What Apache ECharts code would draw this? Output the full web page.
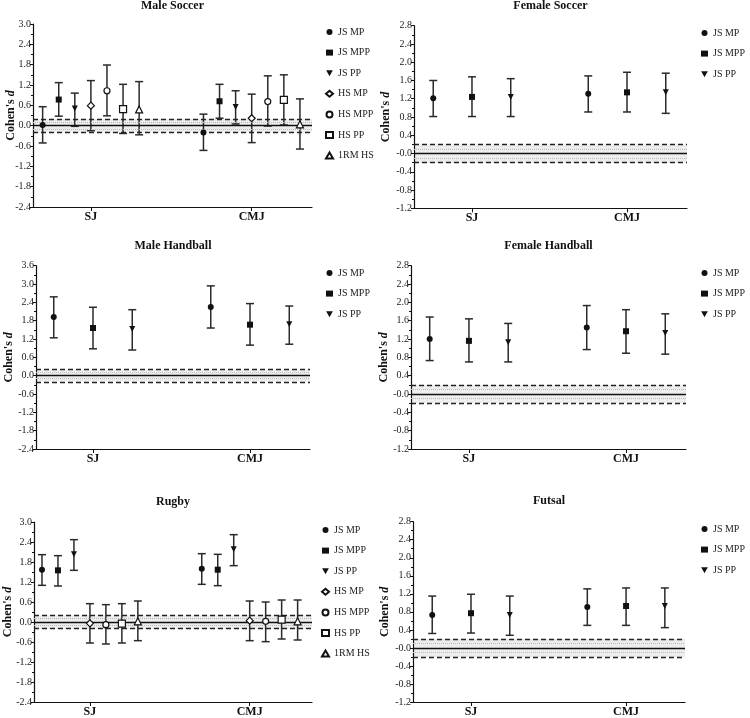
<!DOCTYPE html>
<html>
<head>
<meta charset="utf-8">
<script src="https://cdn.jsdelivr.net/npm/echarts@6/dist/echarts.min.js"></script>
<style>html,body{margin:0;padding:0;background:#fff;}#c{width:750px;height:718px;}</style>
</head>
<body>
<div id="c"></div>
<script>
// ---------------- DATA ----------------
const categories = ['SJ', 'CMJ'];
const names7 = ['JS MP', 'JS MPP', 'JS PP', 'HS MP', 'HS MPP', 'HS PP', '1RM HS'];
const names3 = ['JS MP', 'JS MPP', 'JS PP'];
const panelTitles = ['Male Soccer', 'Female Soccer', 'Male Handball', 'Female Handball', 'Rugby', 'Futsal'];

// each array: [SJ row, CMJ row], one value per series
const maleSoccerD  = [[0.02, 0.77, 0.51, 0.59, 1.03, 0.49, 0.48], [-0.20, 0.72, 0.55, 0.22, 0.71, 0.76, 0.04]];
const maleSoccerLo = [[-0.51, 0.28, -0.02, -0.15, 0.29, -0.23, -0.27], [-0.73, 0.22, 0.05, -0.50, -0.01, 0.02, -0.69]];
const maleSoccerHi = [[0.56, 1.27, 0.96, 1.33, 1.79, 1.22, 1.30], [0.34, 1.22, 1.03, 0.93, 1.47, 1.50, 0.79]];

const femaleSoccerD  = [[1.21, 1.24, 1.24], [1.31, 1.34, 1.34]];
const femaleSoccerLo = [[0.81, 0.81, 0.81], [0.91, 0.91, 0.88]];
const femaleSoccerHi = [[1.60, 1.68, 1.64], [1.70, 1.78, 1.76]];

const maleHandballD  = [[1.92, 1.56, 1.53], [2.25, 1.67, 1.68]];
const maleHandballLo = [[1.24, 0.88, 0.84], [1.56, 1.00, 1.03]];
const maleHandballHi = [[2.58, 2.24, 2.16], [2.94, 2.36, 2.28]];

const femaleHandballD  = [[1.20, 1.16, 1.13], [1.45, 1.37, 1.33]];
const femaleHandballLo = [[0.73, 0.70, 0.70], [0.97, 0.89, 0.87]];
const femaleHandballHi = [[1.68, 1.64, 1.54], [1.93, 1.84, 1.75]];

const rugbyD  = [[1.57, 1.55, 2.03, -0.04, -0.08, -0.05, 0.02], [1.60, 1.57, 2.18, 0.04, 0.02, 0.07, 0.02]];
const rugbyLo = [[1.10, 1.08, 1.55, -0.63, -0.66, -0.63, -0.56], [1.13, 1.09, 1.69, -0.56, -0.59, -0.51, -0.54]];
const rugbyHi = [[2.02, 1.99, 2.47, 0.55, 0.52, 0.55, 0.63], [2.05, 2.03, 2.62, 0.63, 0.60, 0.66, 0.66]];

const futsalD  = [[0.73, 0.77, 0.73], [0.91, 0.93, 0.93]];
const futsalLo = [[0.32, 0.33, 0.28], [0.50, 0.50, 0.45]];
const futsalHi = [[1.15, 1.19, 1.15], [1.31, 1.33, 1.33]];

// y ranges [min, max, interval]
const yRangeMaleSoccer = [-2.4, 3.0, 0.6];
const yRangeFemaleSoccer = [-1.2, 2.8, 0.4];
const yRangeMaleHandball = [-2.4, 3.6, 0.6];
const yRangeFemaleHandball = [-1.2, 2.8, 0.4];
const yRangeRugby = [-2.4, 3.0, 0.6];
const yRangeFutsal = [-1.2, 2.8, 0.4];

const trivialBand = [-0.2, 0.2];

// ---------------- LAYOUT / STYLE ----------------
const FONT = '"Liberation Serif", "Times New Roman", serif';
const panels = [
  {d: maleSoccerD, lo: maleSoccerLo, hi: maleSoccerHi, y: yRangeMaleSoccer, names: names7, neg0: false, nameGap: 16,
   grid: {left: 33, top: 24, width: 279, height: 183}, x: [-0.36, 1.375], legend: {left: 320, top: 21}, titleTop: 0},
  {d: femaleSoccerD, lo: femaleSoccerLo, hi: femaleSoccerHi, y: yRangeFemaleSoccer, names: names3, neg0: true, nameGap: 22,
   grid: {left: 414, top: 25.7, width: 273, height: 182.6}, x: [-0.374, 1.387], legend: {left: 696, top: 22}, titleTop: 0},
  {d: maleHandballD, lo: maleHandballLo, hi: maleHandballHi, y: yRangeMaleHandball, names: names3, neg0: false, nameGap: 21,
   grid: {left: 36, top: 265.7, width: 274, height: 183.3}, x: [-0.363, 1.382], legend: {left: 321, top: 262}, titleTop: 240},
  {d: femaleHandballD, lo: femaleHandballLo, hi: femaleHandballHi, y: yRangeFemaleHandball, names: names3, neg0: true, nameGap: 21,
   grid: {left: 411, top: 265.7, width: 275, height: 183.3}, x: [-0.369, 1.382], legend: {left: 696, top: 262}, titleTop: 240},
  {d: rugbyD, lo: rugbyLo, hi: rugbyHi, y: yRangeRugby, names: names7, neg0: false, nameGap: 20,
   grid: {left: 34, top: 522, width: 278, height: 181.3}, x: [-0.35, 1.39], legend: {left: 316, top: 519}, titleTop: 496},
  {d: futsalD, lo: futsalLo, hi: futsalHi, y: yRangeFutsal, names: names3, neg0: true, nameGap: 22,
   grid: {left: 413, top: 521.7, width: 272, height: 181.6}, x: [-0.374, 1.38], legend: {left: 696, top: 518}, titleTop: 495}
];

const symbolStyles = {
  'JS MP':  {symbol: 'circle', size: 6, fill: '#111'},
  'JS MPP': {symbol: 'rect', size: 6, fill: '#111'},
  'JS PP':  {symbol: 'path://M0,0L10,0L5,9Z', size: 6, fill: '#111'},
  'HS MP':  {symbol: 'diamond', size: 7, fill: '#fff'},
  'HS MPP': {symbol: 'circle', size: 6, fill: '#fff'},
  'HS PP':  {symbol: 'rect', size: 7, fill: '#fff'},
  '1RM HS': {symbol: 'triangle', size: 7, fill: '#fff'}
};

const option = {
  backgroundColor: '#fff',
  animation: false,
  title: [], grid: [], xAxis: [], yAxis: [], legend: [], series: []
};

panels.forEach((p, pi) => {
  const n = p.names.length;
  const step = n === 7 ? 0.1 : 0.25;
  const offsets = p.names.map((_, j) => (j - (n - 1) / 2) * step);
  const g = p.grid;
  option.grid.push({left: g.left, top: g.top, width: g.width, height: g.height, containLabel: false});
  option.title.push({
    text: panelTitles[pi], left: g.left + g.width / 2, top: p.titleTop, textAlign: 'center', padding: 0,
    textStyle: {fontFamily: FONT, fontSize: 12, fontWeight: 'bold', color: '#111'}
  });
  option.xAxis.push({
    type: 'value', gridIndex: pi, min: p.x[0], max: p.x[1],
    axisLine: {show: true, onZero: false, lineStyle: {color: '#111', width: 1.2}},
    axisTick: {show: true, customValues: [0, 1], length: 4, lineStyle: {color: '#111'}},
    axisLabel: {show: true, customValues: [0, 1], formatter: v => categories[Math.round(v)],
      fontFamily: FONT, fontSize: 12, fontWeight: 'bold', color: '#111', margin: 4},
    splitLine: {show: false}
  });
  option.yAxis.push({
    type: 'value', gridIndex: pi, min: p.y[0], max: p.y[1], interval: p.y[2],
    name: "{n|Cohen's }{i|d}", nameLocation: 'middle', nameGap: p.nameGap, nameMoveOverlap: false,
    nameTextStyle: {rich: {
      n: {fontFamily: FONT, fontSize: 12, fontWeight: 'bold', color: '#111'},
      i: {fontFamily: FONT, fontSize: 12, fontWeight: 'bold', fontStyle: 'italic', color: '#111'}
    }},
    axisLine: {show: true, onZero: false, lineStyle: {color: '#111', width: 1.2}},
    axisTick: {show: true, length: 3, lineStyle: {color: '#111'}},
    minorTick: {show: true, splitNumber: 2, length: 2, lineStyle: {color: '#111'}},
    axisLabel: {fontFamily: FONT, fontSize: 10, color: '#222', margin: 2,
      formatter: v => (Math.abs(v) < 1e-9 ? (p.neg0 ? '-0.0' : '0.0') : v.toFixed(1))},
    splitLine: {show: false}
  });
  option.legend.push({
    data: p.names, orient: 'vertical', left: p.legend.left, top: p.legend.top,
    itemWidth: 7, itemHeight: 6, itemGap: 8.6, selectedMode: false,
    textStyle: {fontFamily: FONT, fontSize: 10, color: '#222', lineHeight: 12}
  });

  // error bars
  const errData = [];
  categories.forEach((c, ci) => {
    p.names.forEach((nm, j) => {
      errData.push([ci + offsets[j], p.lo[ci][j], p.hi[ci][j]]);
    });
  });
  option.series.push({
    type: 'custom', xAxisIndex: pi, yAxisIndex: pi, z: 3, silent: true,
    data: errData,
    encode: {x: 0, y: [1, 2]},
    renderItem: (params, api) => {
      const x = api.value(0);
      const top = api.coord([x, api.value(2)]);
      const bot = api.coord([x, api.value(1)]);
      const cw = 4;
      const st = {stroke: '#2a2a2a', lineWidth: 1.5};
      return {type: 'group', children: [
        {type: 'line', shape: {x1: top[0], y1: top[1], x2: bot[0], y2: bot[1]}, style: st},
        {type: 'line', shape: {x1: top[0] - cw, y1: top[1], x2: top[0] + cw, y2: top[1]}, style: st},
        {type: 'line', shape: {x1: bot[0] - cw, y1: bot[1], x2: bot[0] + cw, y2: bot[1]}, style: st}
      ]};
    },
    markArea: {silent: true, itemStyle: {color: 'rgba(0,0,0,0.07)'},
      data: [[{yAxis: trivialBand[0]}, {yAxis: trivialBand[1]}]]},
    markLine: {silent: true, symbol: 'none', label: {show: false},
      data: [
        {yAxis: trivialBand[1], lineStyle: {type: [5, 3], color: '#222', width: 1.3}},
        {yAxis: trivialBand[0], lineStyle: {type: [5, 3], color: '#222', width: 1.3}},
        {yAxis: 0, lineStyle: {type: 'solid', color: '#111', width: 1.3}},
        {yAxis: trivialBand[1] / 2, lineStyle: {type: 'dotted', color: '#bbb', width: 1}},
        {yAxis: trivialBand[0] / 2, lineStyle: {type: 'dotted', color: '#bbb', width: 1}}
      ]}
  });

  // points
  p.names.forEach((nm, j) => {
    const s = symbolStyles[nm];
    option.series.push({
      type: 'scatter', name: nm, xAxisIndex: pi, yAxisIndex: pi, z: 5,
      symbol: s.symbol, symbolSize: s.size,
      itemStyle: {color: s.fill, borderColor: '#111', borderWidth: s.fill === '#fff' ? 1.2 : 0, opacity: 1},
      data: categories.map((c, ci) => [ci + offsets[j], p.d[ci][j]])
    });
  });
});

const chart = echarts.init(document.getElementById('c'), null, {renderer: 'canvas'});
chart.setOption(option);
</script>
</body>
</html>
